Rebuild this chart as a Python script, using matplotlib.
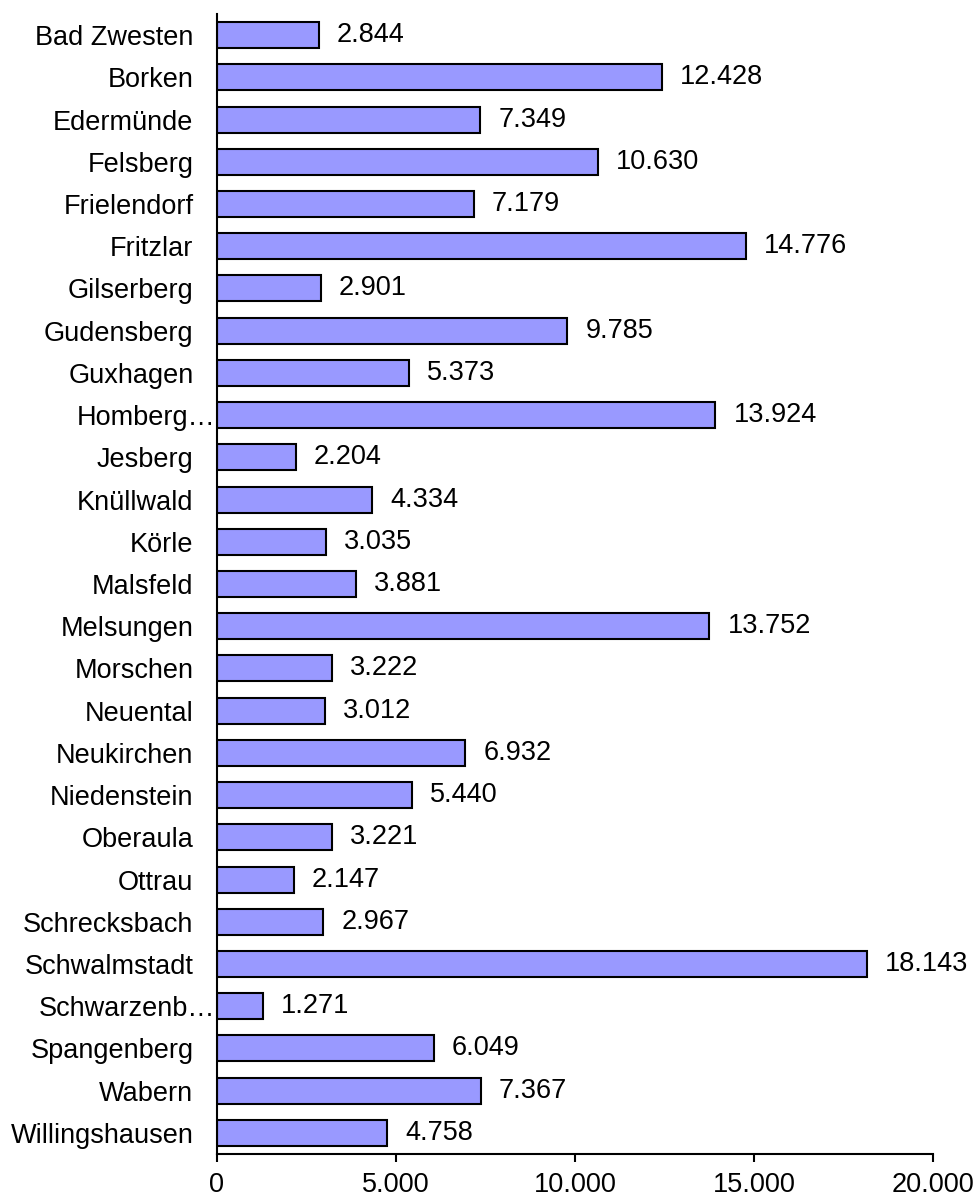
import matplotlib
matplotlib.use("Agg")
import matplotlib.pyplot as plt
from matplotlib.ticker import FuncFormatter
from matplotlib.transforms import ScaledTranslation

plt.rcParams['font.family'] = ['Liberation Sans', 'DejaVu Sans']

gemeinden = [
    "Bad Zwesten", "Borken", "Edermünde", "Felsberg", "Frielendorf", "Fritzlar",
    "Gilserberg", "Gudensberg", "Guxhagen", "Homberg…", "Jesberg", "Knüllwald",
    "Körle", "Malsfeld", "Melsungen", "Morschen", "Neuental", "Neukirchen",
    "Niedenstein", "Oberaula", "Ottrau", "Schrecksbach", "Schwalmstadt",
    "Schwarzenb…", "Spangenberg", "Wabern", "Willingshausen",
]
einwohner = [
    2844, 12428, 7349, 10630, 7179, 14776, 2901, 9785, 5373, 13924, 2204, 4334,
    3035, 3881, 13752, 3222, 3012, 6932, 5440, 3221, 2147, 2967, 18143, 1271,
    6049, 7367, 4758,
]
x_ticks = [0, 5000, 10000, 15000, 20000]

FS = 19.5


def de_format(v, pos=None):
    return f"{int(round(v)):,}".replace(",", ".")


W, H = 977, 1199
fig = plt.figure(figsize=(W / 100, H / 100), dpi=100)
ax = fig.add_axes([217 / W, 1 - 1154 / H, (933 - 217) / W, (1154 - 14) / H])

ypos = list(range(len(gemeinden)))
ax.barh(ypos, einwohner, height=0.615, color="#9999FF", edgecolor="black", linewidth=1.5)

for y, v in zip(ypos, einwohner):
    ax.annotate(de_format(v), (v, y), xytext=(13, 0), textcoords="offset points",
                va="center", ha="left", fontsize=FS)

ax.set_ylim(len(gemeinden) - 0.5, -0.5)
ax.set_xlim(0, 20000)
ax.set_yticks(ypos)
ax.set_yticklabels(gemeinden, fontsize=FS)
ax.tick_params(axis="y", length=0, pad=17)
ax.set_xticks(x_ticks)
ax.xaxis.set_major_formatter(FuncFormatter(de_format))
ax.tick_params(axis="x", direction="out", length=6, width=1.5, labelsize=FS, pad=7)

# shortened names run right up to the axis line
for lbl in ax.get_yticklabels():
    if lbl.get_text().endswith("…"):
        lbl.set_transform(lbl.get_transform() + ScaledTranslation(16 / 72, 0, fig.dpi_scale_trans))

for side in ("top", "right"):
    ax.spines[side].set_visible(False)
for side in ("left", "bottom"):
    ax.spines[side].set_linewidth(1.5)

fig.savefig("out.png", dpi=100)
